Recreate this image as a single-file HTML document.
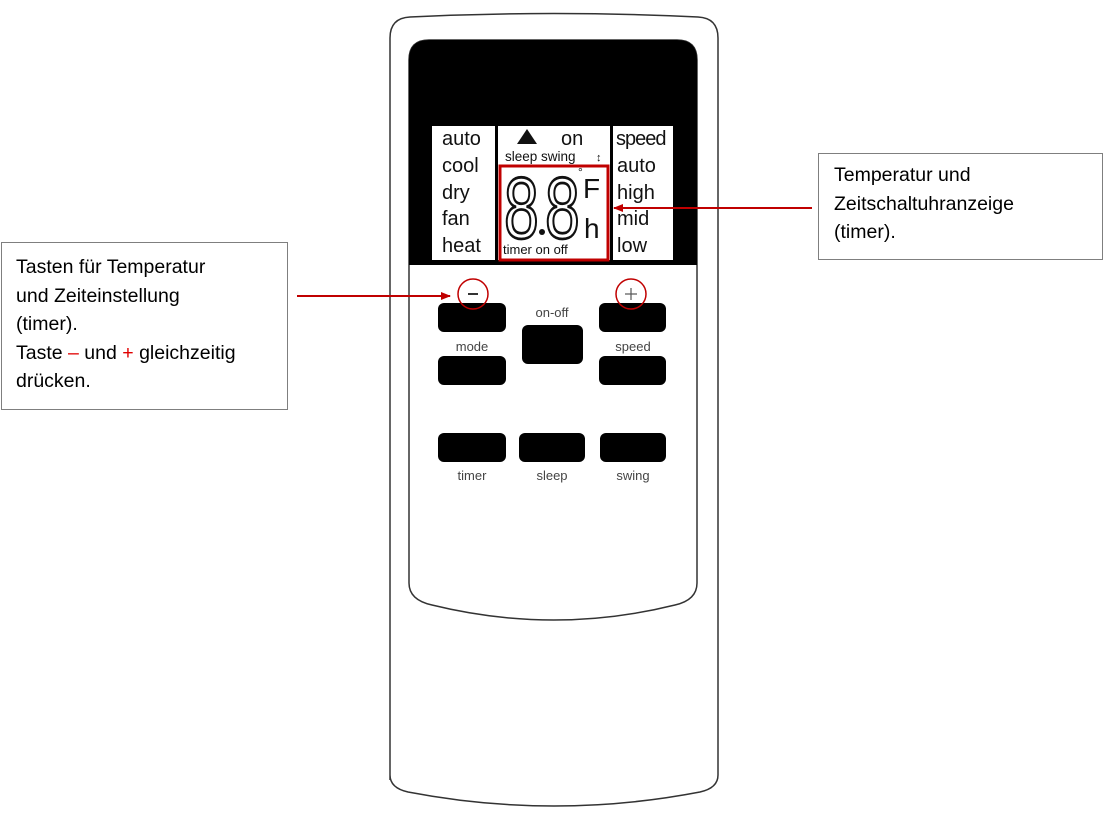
<!DOCTYPE html>
<html><head><meta charset="utf-8"><style>
body{margin:0;background:#fff;width:1104px;height:814px;overflow:hidden;position:relative;font-family:"Liberation Sans",sans-serif}
.box{position:absolute;border:1px solid #7f7f7f;background:#fff;font-size:19.5px;line-height:28.5px;color:#000;box-sizing:border-box}
</style></head><body>
<svg width="1104" height="814" style="position:absolute;left:0;top:0" font-family="Liberation Sans, sans-serif">
<defs><marker id="a" markerWidth="10" markerHeight="8" refX="9" refY="4" orient="auto" markerUnits="userSpaceOnUse"><path d="M0,0 L10,4 L0,8 z" fill="#c00000"/></marker></defs>
<path d="M390,780 L390,38 Q390,18 410,17 Q554,10 698,17 Q718,18 718,38 L718,775 Q718,788 700,792 Q554,820 408,792 Q390,788 390,775 Z" fill="#fff" stroke="#333" stroke-width="1.5"/>
<path d="M409,60 Q409,40 429,40 L677,40 Q697,40 697,60 L697,583 Q697,600 675,605 Q554,635 432,605 Q409,600 409,583 Z" fill="#fff" stroke="#333" stroke-width="1.5"/>
<path d="M409,265 L409,60 Q409,40 429,40 L677,40 Q697,40 697,60 L697,265 Z" fill="#000"/>
<rect x="432" y="126" width="63" height="134" fill="#fff"/>
<rect x="498" y="126" width="112" height="134" fill="#fff"/>
<rect x="613" y="126" width="60" height="134" fill="#fff"/>
<g font-size="20" fill="#111">
<text x="442" y="145">auto</text><text x="442" y="172">cool</text><text x="442" y="199">dry</text><text x="442" y="225">fan</text><text x="442" y="252">heat</text>
<text x="616" y="145" letter-spacing="-1">speed</text><text x="617" y="172">auto</text><text x="617" y="199">high</text><text x="617" y="225">mid</text><text x="617" y="252">low</text>
<text x="561" y="145">on</text>
</g>
<path d="M517,144 L527,129 L537,144 Z" fill="#111"/>
<text x="505" y="161" font-size="13.5" fill="#111">sleep swing</text>
<text x="596" y="161" font-size="11" fill="#111">↕</text>
<text x="503" y="254" font-size="13" fill="#111">timer on off</text>
<g fill="none" stroke="#111" stroke-width="1.6" font-size="50">
<text transform="translate(504,238) scale(1.25,1.75)">8</text>
<text transform="translate(545,238) scale(1.25,1.75)">8</text>
</g>
<circle cx="542" cy="232" r="3" fill="#111"/>
<text x="583" y="198" font-size="28" fill="#111">F</text>
<text x="578" y="176" font-size="12" fill="#111">°</text>
<text x="584" y="238" font-size="28" fill="#111">h</text>
<rect x="500" y="166" width="108" height="94" fill="none" stroke="#c00000" stroke-width="3"/>
<g fill="#000">
<rect x="438" y="303" width="68" height="29" rx="6"/>
<rect x="599" y="303" width="67" height="29" rx="6"/>
<rect x="522" y="325" width="61" height="39" rx="6"/>
<rect x="438" y="356" width="68" height="29" rx="6"/>
<rect x="599" y="356" width="67" height="29" rx="6"/>
<rect x="438" y="433" width="68" height="29" rx="6"/>
<rect x="519" y="433" width="66" height="29" rx="6"/>
<rect x="600" y="433" width="66" height="29" rx="6"/>
</g>
<g font-size="13" fill="#444" text-anchor="middle">
<text x="552" y="317">on-off</text>
<text x="472" y="351">mode</text>
<text x="633" y="351">speed</text>
<text x="472" y="480">timer</text>
<text x="552" y="480">sleep</text>
<text x="633" y="480">swing</text>
</g>
<line x1="468" y1="294" x2="478" y2="294" stroke="#333" stroke-width="2"/>
<line x1="625" y1="294" x2="637" y2="294" stroke="#555" stroke-width="1.2"/>
<line x1="631" y1="288" x2="631" y2="300" stroke="#555" stroke-width="1.2"/>
<circle cx="473" cy="294" r="15" fill="none" stroke="#c00000" stroke-width="1.5"/>
<circle cx="631" cy="294" r="15" fill="none" stroke="#c00000" stroke-width="1.5"/>
<line x1="812" y1="208" x2="614" y2="208" stroke="#c00000" stroke-width="2" marker-end="url(#a)"/>
<line x1="297" y1="296" x2="450" y2="296" stroke="#c00000" stroke-width="2" marker-end="url(#a)"/>
</svg>
<div class="box" style="left:818px;top:153px;width:285px;height:107px;padding:7px 0 0 15px">Temperatur und<br>Zeitschaltuhranzeige<br>(timer).</div>
<div class="box" style="left:1px;top:242px;width:287px;height:168px;padding:10px 0 0 14px">Tasten für Temperatur<br>und Zeiteinstellung<br>(timer).<br>Taste <span style="color:#e00000">–</span> und <span style="color:#e00000">+</span> gleichzeitig<br>drücken.</div>
</body></html>
